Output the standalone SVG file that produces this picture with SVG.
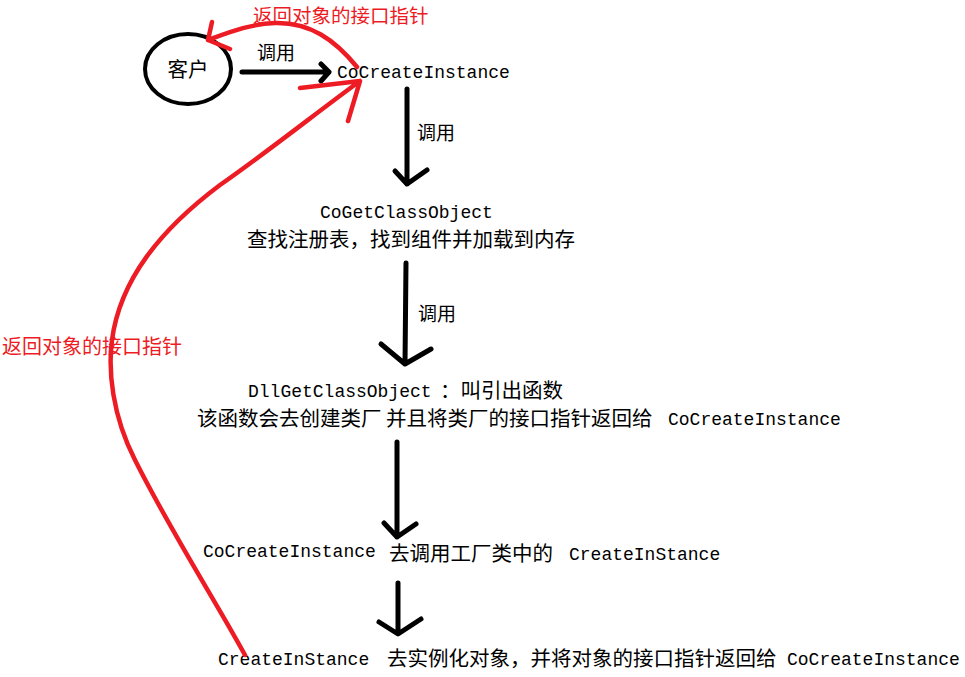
<svg xmlns="http://www.w3.org/2000/svg" width="965" height="677" viewBox="0 0 965 677">
<style>
.m{font-family:"Liberation Mono","DejaVu Sans Mono",monospace;font-size:18px;fill:#000}
.c{font-family:"Noto Sans CJK SC","Noto Sans",sans-serif;font-size:20.5px;fill:#000}
.r{font-family:"Noto Sans CJK SC","Noto Sans",sans-serif;font-size:20px;fill:#ed1c24}
.k{fill:none;stroke:#000;stroke-width:5;stroke-linecap:round;stroke-linejoin:round}
.rd{fill:none;stroke:#ed1c24;stroke-width:4.5;stroke-linecap:round;stroke-linejoin:round}
</style>
<rect width="965" height="677" fill="#fff"/>
<g id="client">
<ellipse cx="188" cy="69" rx="43" ry="35" fill="none" stroke="#000" stroke-width="4"/>
<text class="c" x="188" y="77" text-anchor="middle">客户</text>
</g>
<g id="cocreate">
<text class="m" x="337" y="78">CoCreateInstance</text>
</g>
<g id="cogetclassobject">
<text class="m" x="320" y="218">CoGetClassObject</text>
<text class="c" x="247" y="247">查找注册表，找到组件并加载到内存</text>
</g>
<g id="dllgetclassobject">
<text class="m" x="248" y="397">DllGetClassObject</text>
<text class="c" x="440" y="398">：叫引出函数</text>
<text class="c" x="197" y="426">该函数会去创建类厂 并且将类厂的接口指针返回给</text>
<text class="m" x="668" y="425">CoCreateInstance</text>
</g>
<g id="call-createinstance">
<text class="m" x="203" y="557">CoCreateInstance</text>
<text class="c" x="389" y="561">去调用工厂类中的</text>
<text class="m" x="569" y="560">CreateInStance</text>
</g>
<g id="createinstance">
<text class="m" x="218" y="665">CreateInStance</text>
<text class="c" x="387" y="666">去实例化对象，并将对象的接口指针返回给</text>
<text class="m" x="787" y="665">CoCreateInstance</text>
</g>
<g id="connectors">
<path class="k" d="M242 72 L329 72 M321 64 L329 72 L321 81"/>
<text class="c" x="257" y="60" style="font-size:19px">调用</text>
<path class="k" d="M407 89 L407 184 M395 171 L407 184 L427 170"/>
<text class="c" x="417" y="140" style="font-size:19px">调用</text>
<path class="k" d="M406 263 L405 364 M381 344 L405 364 L431 349"/>
<text class="c" x="418" y="321" style="font-size:19px">调用</text>
<path class="k" d="M397 442 L397 537 M384 523 L397 537 L416 524"/>
<path class="k" d="M398 583 L398 633 M379 622 L398 634 L421 619"/>
<path class="rd" d="M357 67 C335 40 310 22 275 23 C250 24 230 32 208 40 M212 22 L208 40 L230 49"/>
<path class="rd" d="M245 655 C215 600 170 530 135 460 C112 415 108 370 112 340 C120 280 160 230 220 185 C270 150 320 110 360 81 M300 88 L360 81 L348 121"/>
<text class="r" x="253" y="23" style="font-size:19.5px">返回对象的接口指针</text>
<text class="r" x="2" y="354">返回对象的接口指针</text>
</g>
</svg>
